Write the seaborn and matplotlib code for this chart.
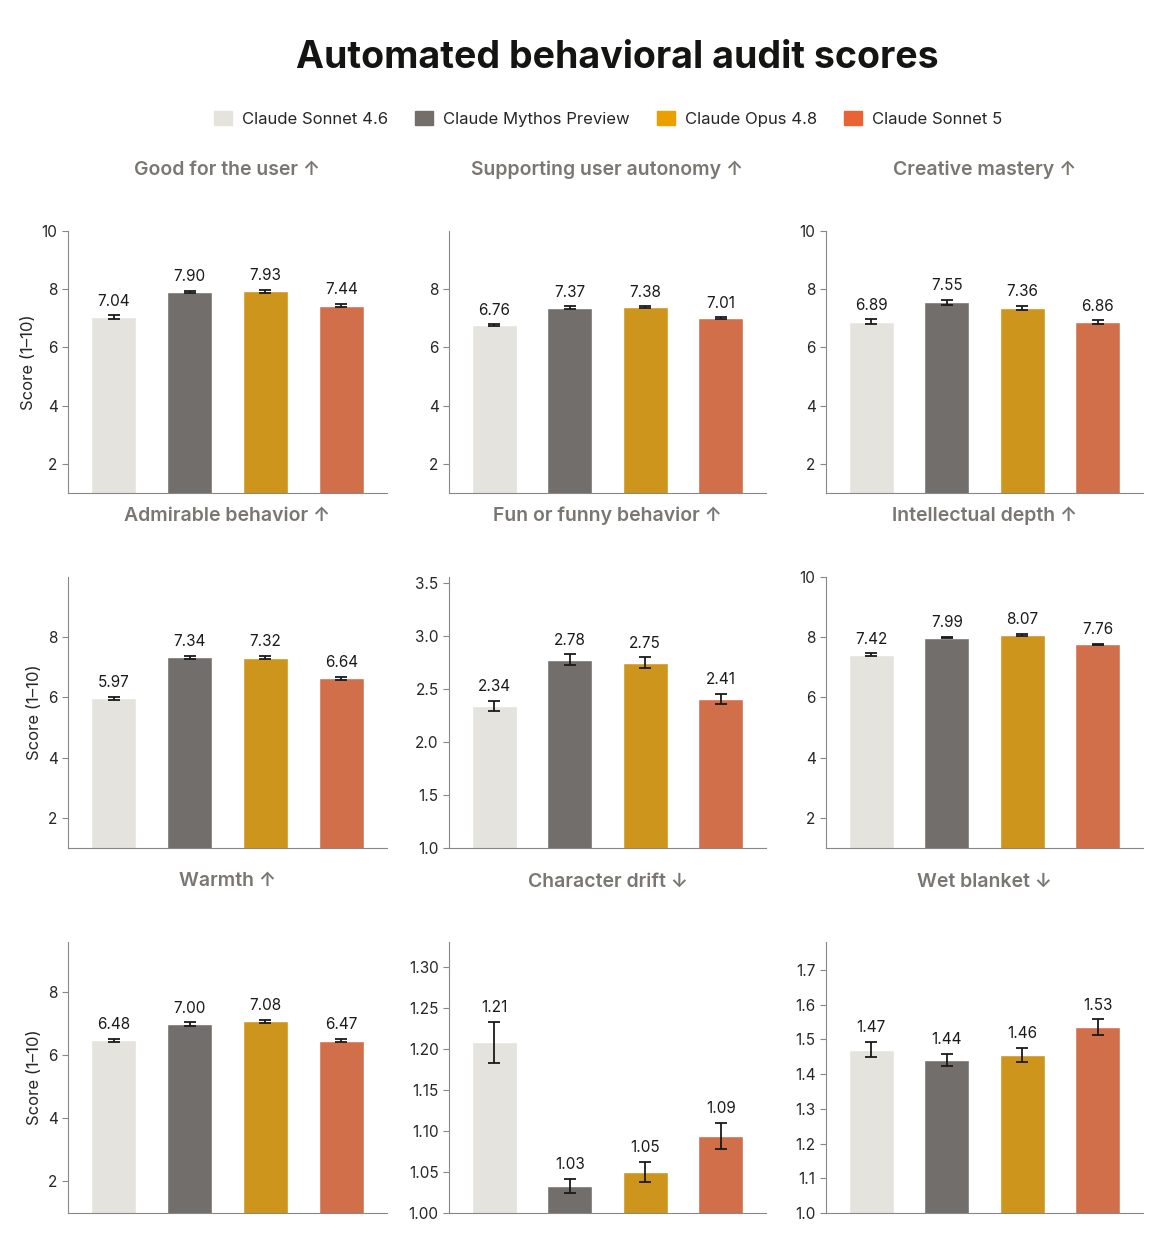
import pandas as pd
import seaborn as sns
import matplotlib.pyplot as plt

models = ['Claude Sonnet 4.6', 'Claude Mythos Preview', 'Claude Opus 4.8', 'Claude Sonnet 5']
colors = ['#e5e4dc', '#736e6a', '#eba000', '#e96434']

panels = ['Good for the user \u2191', 'Supporting user autonomy \u2191', 'Creative mastery \u2191',
          'Admirable behavior \u2191', 'Fun or funny behavior \u2191', 'Intellectual depth \u2191',
          'Warmth \u2191', 'Character drift \u2193', 'Wet blanket \u2193']

scores = [
    [7.04, 7.90, 7.93, 7.44],
    [6.76, 7.37, 7.38, 7.01],
    [6.89, 7.55, 7.36, 6.86],
    [5.97, 7.34, 7.32, 6.64],
    [2.34, 2.78, 2.75, 2.41],
    [7.42, 7.99, 8.07, 7.76],
    [6.48, 7.00, 7.08, 6.47],
    [1.208, 1.033, 1.050, 1.094],
    [1.47, 1.44, 1.455, 1.535],
]
errors = [
    [0.06, 0.04, 0.05, 0.06],
    [0.04, 0.04, 0.03, 0.03],
    [0.08, 0.08, 0.08, 0.07],
    [0.06, 0.05, 0.05, 0.05],
    [0.05, 0.05, 0.05, 0.045],
    [0.04, 0.03, 0.03, 0.03],
    [0.05, 0.05, 0.05, 0.05],
    [0.025, 0.009, 0.012, 0.016],
    [0.022, 0.018, 0.02, 0.022],
]
ylims = [(1, 10), (1, 10), (1, 10), (1, 10), (1, 3.56), (1, 10), (1, 9.6), (1, 1.33), (1, 1.78)]
yticks = [[2, 4, 6, 8, 10], [2, 4, 6, 8], [2, 4, 6, 8, 10],
          [2, 4, 6, 8], [1.0, 1.5, 2.0, 2.5, 3.0, 3.5], [2, 4, 6, 8, 10],
          [2, 4, 6, 8], [1.00, 1.05, 1.10, 1.15, 1.20, 1.25, 1.30],
          [1.0, 1.1, 1.2, 1.3, 1.4, 1.5, 1.6, 1.7]]
tickfmt = ['{:.0f}'] * 4 + ['{:.1f}', '{:.0f}', '{:.0f}', '{:.2f}', '{:.1f}']

sns.set_style('white')
plt.rcParams['font.family'] = ['Inter', 'DejaVu Sans']

fig = plt.figure(figsize=(11.76, 12.4), dpi=100)
W, H = 1176, 1240
rows_top = [231, 577, 942]
rows_bot = [493, 848, 1213]
cols = [(68, 387), (449, 766), (826, 1143)]

for i in range(9):
    r, c = divmod(i, 3)
    x0, x1 = cols[c]
    ax = fig.add_axes([x0 / W, 1 - rows_bot[r] / H, (x1 - x0) / W, (rows_bot[r] - rows_top[r]) / H])
    df = pd.DataFrame({'model': models, 'score': scores[i]})
    sns.barplot(data=df, x='model', y='score', hue='model', palette=colors,
                legend=False, width=0.6, errorbar=None, ax=ax)
    ax.errorbar(range(4), scores[i], yerr=errors[i], fmt='none', ecolor='#1a1a1a',
                elinewidth=1.3, capsize=4, capthick=1.3)
    span = ylims[i][1] - ylims[i][0]
    for j in range(4):
        ax.text(j, scores[i][j] + errors[i][j] + span * 0.025, f'{scores[i][j]:.2f}',
                ha='center', va='bottom', fontsize=11, color='#1a1a1a')
    ax.set_ylim(*ylims[i])
    ax.set_yticks(yticks[i])
    ax.set_yticklabels([tickfmt[i].format(t) for t in yticks[i]], fontsize=11)
    ax.set_xticks([])
    ax.set_xlabel('')
    ax.set_ylabel('Score (1\u201310)' if c == 0 else '', fontsize=12)
    ax.set_xlim(-0.6, 3.6)
    for s in ['top', 'right']:
        ax.spines[s].set_visible(False)
    for s in ['left', 'bottom']:
        ax.spines[s].set_color('#888888')
    ax.tick_params(axis='y', length=4, color='#888888', left=True)
    ax.set_title(panels[i], fontsize=14, color='#7a7672', fontweight='semibold', pad=40)

fig.text(0.525, 1 - 58 / H, 'Automated behavioral audit scores', ha='center', va='center',
         fontsize=27, fontweight='bold', color='#141413')
handles = [plt.Rectangle((0, 0), 1, 1, color=col) for col in colors]
fig.legend(handles, models, loc='center', bbox_to_anchor=(0.517, 1 - 119 / H), ncol=4,
           frameon=False, fontsize=12, handlelength=1.1, handleheight=0.9, columnspacing=1.6,
           handletextpad=0.6)

fig.savefig('out.png', dpi=100, facecolor='white')
